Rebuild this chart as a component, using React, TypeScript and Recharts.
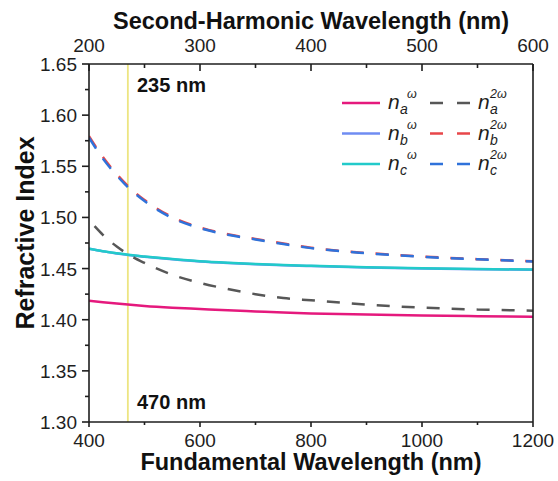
import React from "react";
import { LineChart, Line, XAxis, YAxis, ReferenceLine } from "recharts";

// Refractive index dispersion, fundamental (solid) vs second-harmonic (dashed)

const W = 558;
const H = 481;
const FONT = '"Liberation Sans", Arial, sans-serif';
const AX = "#1e1e1e";

// fundamental wavelength (nm)
const lambdaFund = [400, 425, 450, 475, 500, 550, 600, 650, 700, 750, 800, 900, 1000, 1100, 1200];
const naW = [1.4186, 1.4171, 1.4158, 1.4146, 1.4135, 1.4118, 1.4105, 1.4092, 1.4081, 1.407, 1.4061, 1.405, 1.4041, 1.4035, 1.403];
const nbW = [1.4693, 1.4668, 1.4648, 1.463, 1.4616, 1.4591, 1.457, 1.4555, 1.4543, 1.4533, 1.4525, 1.4511, 1.45, 1.4493, 1.4488];
const ncW = [1.4695, 1.467, 1.465, 1.4632, 1.4618, 1.4593, 1.4572, 1.4557, 1.4545, 1.4535, 1.4527, 1.4513, 1.4502, 1.4495, 1.449];
const nbSH = [1.5795, 1.559, 1.5423, 1.5282, 1.517, 1.5004, 1.4902, 1.4836, 1.479, 1.4745, 1.4704, 1.4653, 1.4618, 1.4592, 1.4572];
const ncSH = [1.578, 1.5575, 1.541, 1.527, 1.516, 1.4995, 1.4895, 1.483, 1.4785, 1.474, 1.47, 1.465, 1.4615, 1.459, 1.457];

// n_a^2w curve starts a little later
const lambdaA = [410, 425, 450, 475, 500, 550, 600, 650, 700, 750, 800, 900, 1000, 1100, 1200];
const naSH = [1.4915, 1.483, 1.4715, 1.4625, 1.4555, 1.444, 1.436, 1.43, 1.425, 1.4212, 1.419, 1.4148, 1.4118, 1.41, 1.4088];

const bottomTicks = [400, 500, 600, 700, 800, 900, 1000, 1100, 1200];
const bottomLabels = [400, 600, 800, 1000, 1200];
const topTicks = [200, 250, 300, 350, 400, 450, 500, 550, 600];
const topLabels = [200, 300, 400, 500, 600];
const yTicks = [1.3, 1.325, 1.35, 1.375, 1.4, 1.425, 1.45, 1.475, 1.5, 1.525, 1.55, 1.575, 1.6, 1.625, 1.65];
const markerNm = 470;

const toRows = (xs: number[], ys: number[]) => xs.map((x, i) => ({ x, v: ys[i] }));

const series = [
  { key: "nbW", rows: toRows(lambdaFund, nbW), color: "#6F8CF2", dash: undefined },
  { key: "naW", rows: toRows(lambdaFund, naW), color: "#E5197D", dash: undefined },
  { key: "ncW", rows: toRows(lambdaFund, ncW), color: "#22CACA", dash: undefined },
  { key: "naSH", rows: toRows(lambdaA, naSH), color: "#575757", dash: "13 12" },
  { key: "nbSH", rows: toRows(lambdaFund, nbSH), color: "#E8474A", dash: "13 12" },
  { key: "ncSH", rows: toRows(lambdaFund, ncSH), color: "#2F72DA", dash: "13 12" },
];

const tickText = { fontSize: 19, fill: "#1e1e1e", fontFamily: FONT };

function BottomTick({ x, y, payload }: any) {
  const major = bottomLabels.includes(payload.value);
  return (
    <g>
      <line x1={x} x2={x} y1={y} y2={y + (major ? 5 : 3)} stroke={AX} strokeWidth={1.6} />
      {major && <text x={x} y={y + 25} textAnchor="middle" {...tickText}>{payload.value}</text>}
    </g>
  );
}

function TopTick({ x, y, payload }: any) {
  const major = topLabels.includes(payload.value);
  return (
    <g>
      <line x1={x} x2={x} y1={y} y2={y + (major ? 7 : 4)} stroke={AX} strokeWidth={1.6} />
      {major && <text x={x} y={y - 12} textAnchor="middle" {...tickText}>{payload.value}</text>}
    </g>
  );
}

function LeftTick({ x, y, payload }: any) {
  const major = Math.round(payload.value * 1000) % 50 === 0;
  return (
    <g>
      <line x1={x - (major ? 7 : 4)} x2={x} y1={y} y2={y} stroke={AX} strokeWidth={1.6} />
      {major && (
        <text x={x - 12} y={y + 7} textAnchor="end" {...tickText}>{payload.value.toFixed(2)}</text>
      )}
    </g>
  );
}

function Sym({ x, y, sub, sup, stacked }: any) {
  // italic n with subscript, superscript either stacked (2w) or after the subscript (w)
  return (
    <g fontFamily={FONT} fontStyle="italic" fill="#1e1e1e">
      <text x={x} y={y + 6} fontSize={21}>n</text>
      <text x={x + 12} y={y + 11} fontSize={14}>{sub}</text>
      <text x={stacked ? x + 12 : x + 19} y={y - 5} fontSize={12.5}>{sup}</text>
    </g>
  );
}

const legendRows = [
  { sub: "a", solid: "#E5197D", dashed: "#575757" },
  { sub: "b", solid: "#6F8CF2", dashed: "#E8474A" },
  { sub: "c", solid: "#22CACA", dashed: "#2F72DA" },
];

function Overlay() {
  return (
    <svg width={W} height={H} style={{ position: "absolute", left: 0, top: 0, pointerEvents: "none" }}>
      <text x={311} y={29} textAnchor="middle" fontSize={23.5} fontWeight="bold" fontFamily={FONT} fill="#111">
        Second-Harmonic Wavelength (nm)
      </text>
      <text x={311} y={470} textAnchor="middle" fontSize={23.5} fontWeight="bold" fontFamily={FONT} fill="#111">
        Fundamental Wavelength (nm)
      </text>
      <text
        x={0}
        y={0}
        transform="translate(34,233) rotate(-90)"
        textAnchor="middle"
        fontSize={25}
        fontWeight="bold"
        fontFamily={FONT}
        fill="#111"
      >
        Refractive Index
      </text>
      <text x={137} y={92} fontSize={20} fontWeight="bold" fontFamily={FONT} fill="#111">235 nm</text>
      <text x={137} y={409} fontSize={20} fontWeight="bold" fontFamily={FONT} fill="#111">470 nm</text>
      {legendRows.map((r, i) => {
        const y = 103 + i * 30.5;
        return (
          <g key={r.sub}>
            <line x1={342} x2={380} y1={y} y2={y} stroke={r.solid} strokeWidth={2.5} />
            <Sym x={388} y={y} sub={r.sub} sup={"\u03c9"} />
            <line x1={430} x2={470} y1={y} y2={y} stroke={r.dashed} strokeWidth={2.5} strokeDasharray="13 14" />
            <Sym x={478} y={y} sub={r.sub} sup={"2\u03c9"} stacked />
          </g>
        );
      })}
    </svg>
  );
}

export default function App() {
  return (
    <div style={{ position: "absolute", left: 0, top: 0, width: W, height: H, background: "#fff" }}>
      <LineChart width={W} height={H} margin={{ top: 0, right: 25, bottom: 0, left: 0 }}>
        <XAxis
          xAxisId="bottom"
          type="number"
          dataKey="x"
          domain={[400, 1200]}
          ticks={bottomTicks}
          interval={0}
          allowDataOverflow
          height={59}
          tickSize={0}
          tickMargin={0}
          tickLine={false}
          tick={<BottomTick />}
          axisLine={{ stroke: AX, strokeWidth: 1.6 }}
        />
        <XAxis
          xAxisId="top"
          orientation="top"
          type="number"
          dataKey="x"
          domain={[200, 600]}
          ticks={topTicks}
          interval={0}
          allowDataOverflow
          height={64}
          tickSize={0}
          tickMargin={0}
          tickLine={false}
          tick={<TopTick />}
          axisLine={{ stroke: AX, strokeWidth: 1.6 }}
        />
        <YAxis
          type="number"
          domain={[1.3, 1.65]}
          ticks={yTicks}
          interval={0}
          allowDataOverflow
          width={89}
          tickSize={0}
          tickMargin={0}
          tickLine={false}
          tick={<LeftTick />}
          axisLine={{ stroke: AX, strokeWidth: 1.6 }}
        />
        <ReferenceLine xAxisId="bottom" x={markerNm} stroke="#EDE582" strokeWidth={1.8} />
        {series.map((s) => (
          <Line
            key={s.key}
            xAxisId="bottom"
            data={s.rows}
            dataKey="v"
            type="monotone"
            stroke={s.color}
            strokeWidth={2.5}
            strokeDasharray={s.dash}
            dot={false}
            isAnimationActive={false}
          />
        ))}
        <ReferenceLine xAxisId="bottom" x={1200} stroke={AX} strokeWidth={1.6} />
      </LineChart>
      <Overlay />
    </div>
  );
}
